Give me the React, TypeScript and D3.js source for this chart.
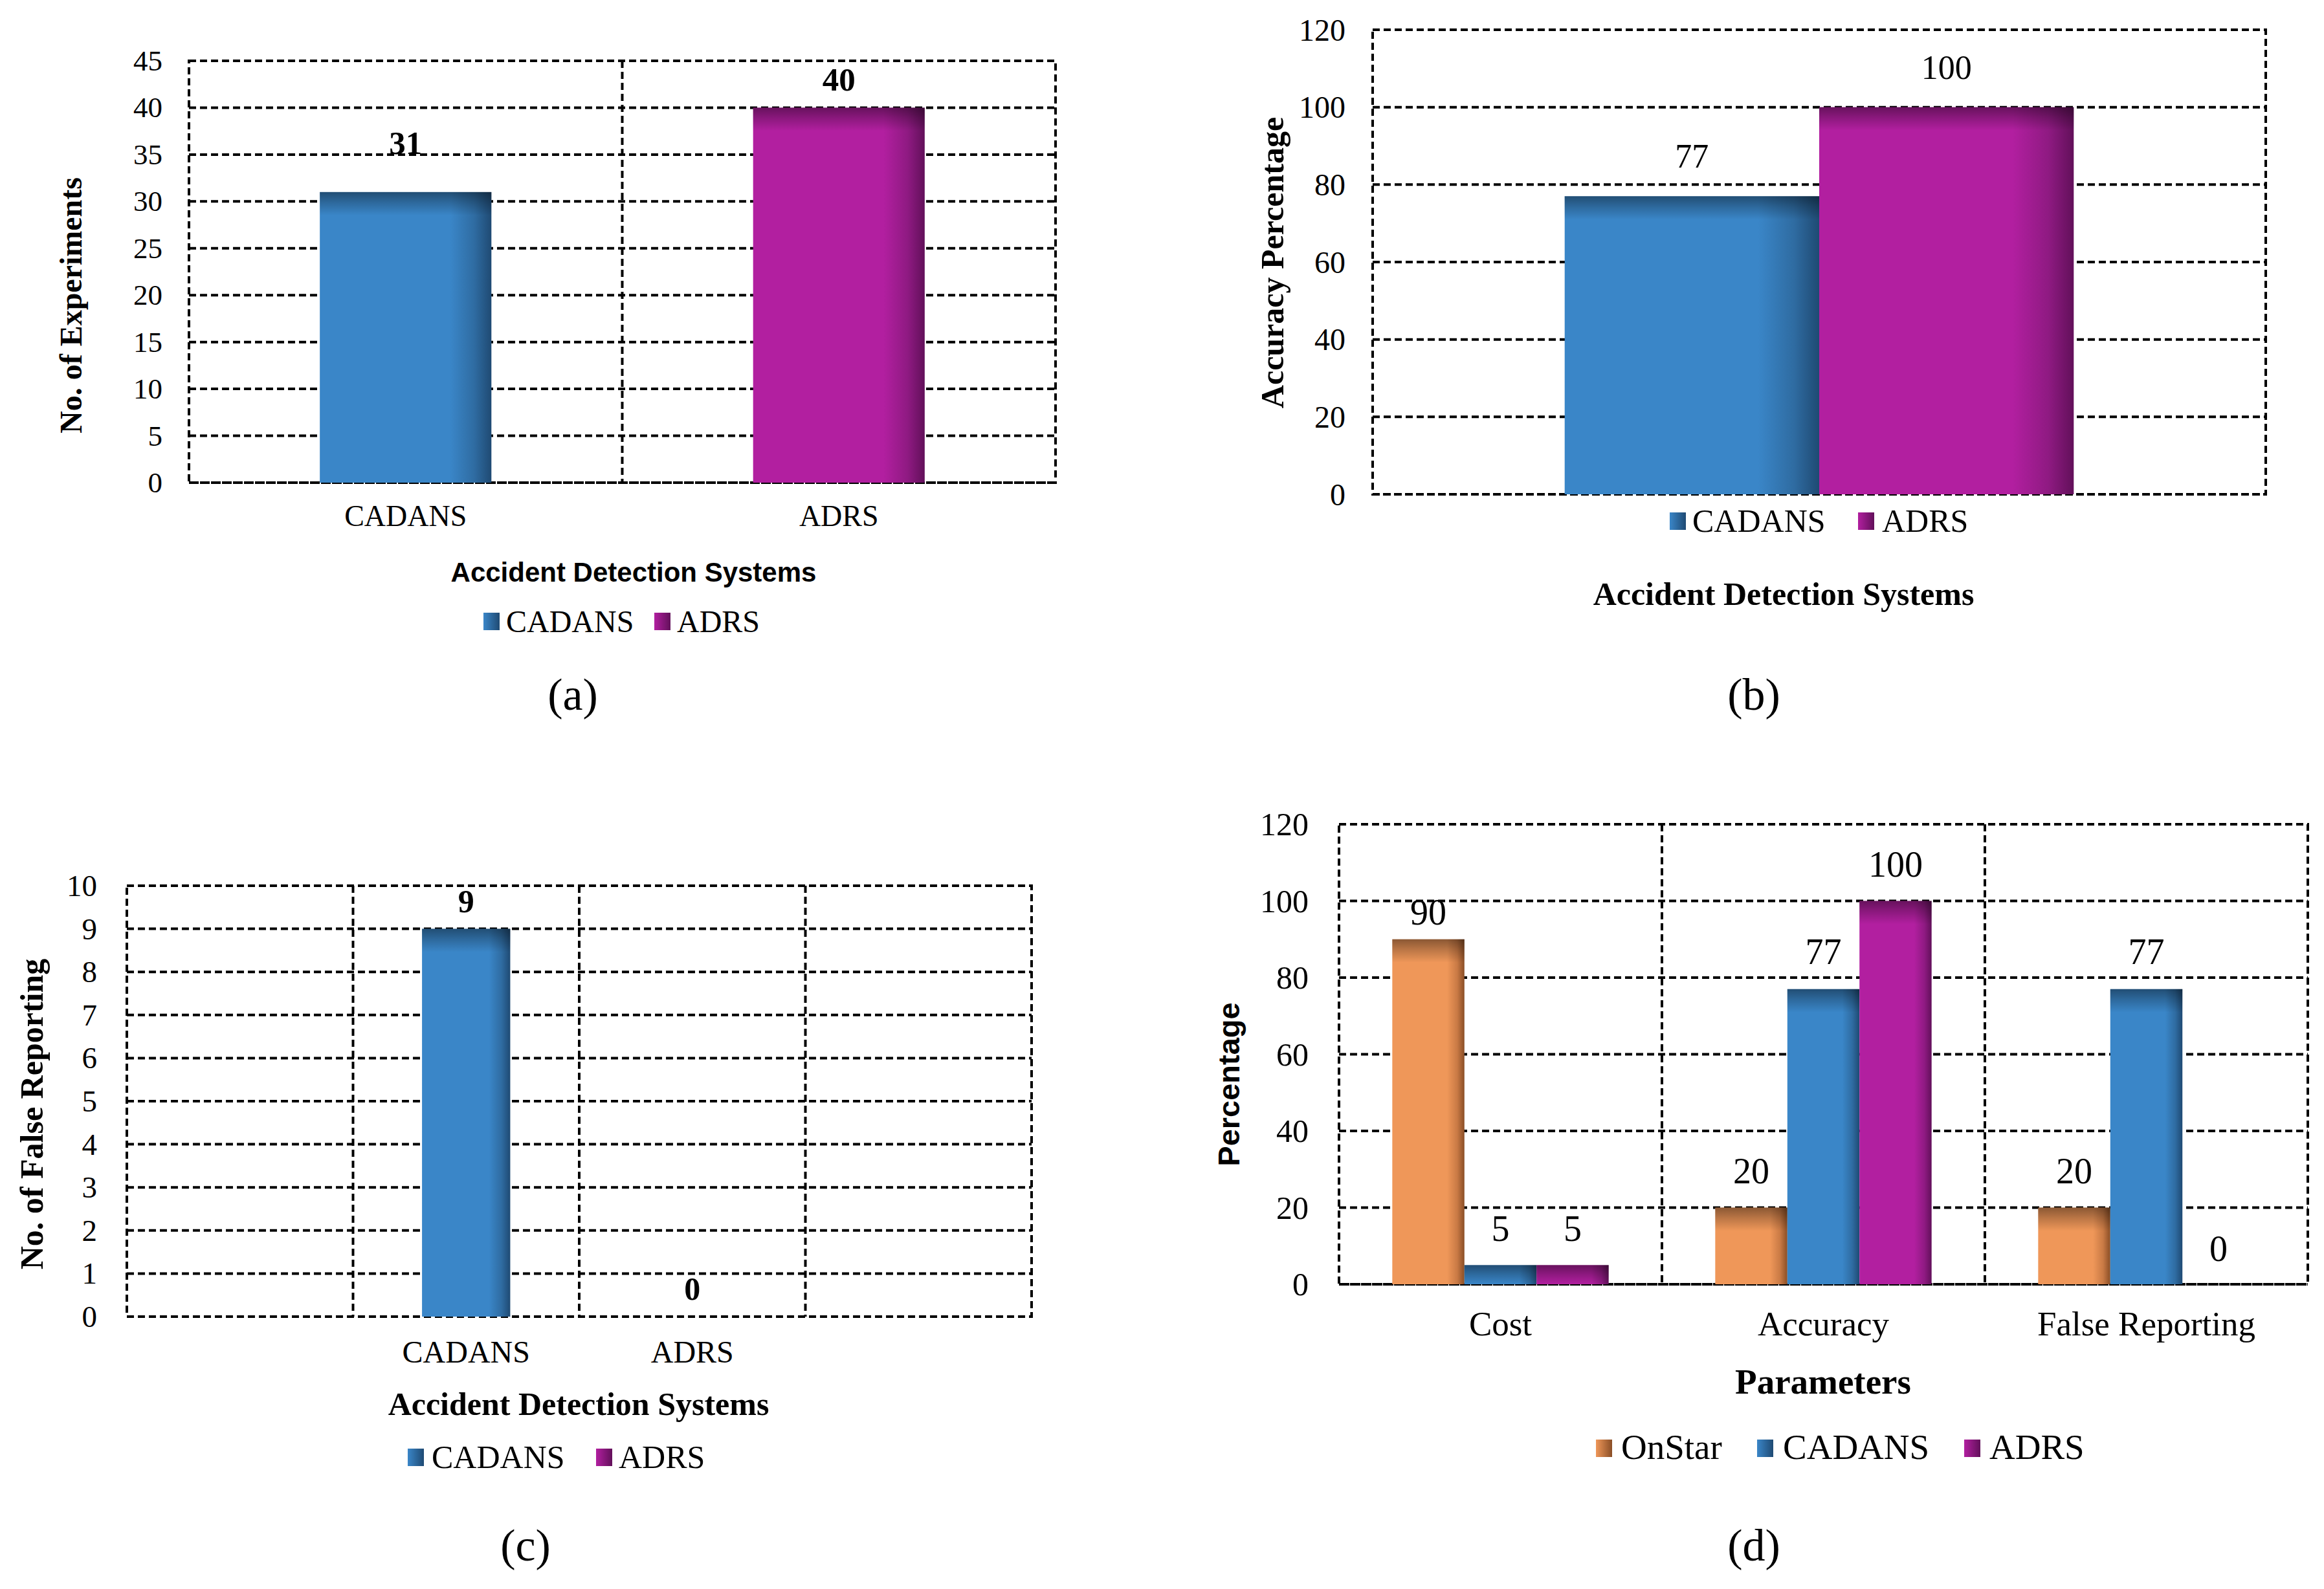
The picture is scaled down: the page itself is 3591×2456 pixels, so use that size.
import React from "react";
import * as d3 from "d3";

// ---- data ----
const systems = ["CADANS", "ADRS"];
const experimentCounts = [31, 40];
const accuracyPct = [77, 100];
const falseReports = [9, 0];

const parameters = ["Cost", "Accuracy", "False Reporting"];
const paramSeries = ["OnStar", "CADANS", "ADRS"];
const onStarPct = [90, 20, 20];
const cadansPct = [5, 77, 77];
const adrsPct = [5, 100, 0];

const ticksA = [0, 5, 10, 15, 20, 25, 30, 35, 40, 45];
const ticksB = [0, 20, 40, 60, 80, 100, 120];
const ticksC = [0, 1, 2, 3, 4, 5, 6, 7, 8, 9, 10];
const ticksD = [0, 20, 40, 60, 80, 100, 120];

const palette: Record<string, { base: string; mid: string; dark: string }> = {
    OnStar: { base: "#EF9759", mid: "#C97A45", dark: "#8A4E26" },
    CADANS: { base: "#3A86C8", mid: "#2F6CA2", dark: "#1F4A73" },
    ADRS: { base: "#B21FA0", mid: "#8F1A82", dark: "#62105A" },
};

const SERIF = "'Liberation Serif', 'Times New Roman', serif";
const SANS = "'Liberation Sans', Arial, sans-serif";

type Bar = { band: string; series: string; value: number; lift: number };
type Title = { text: string; x: number; y: number; size: number; family: string };
type LegendItem = { name: string; sx: number; tx: number };

interface PanelProps {
    box: { l: number; r: number; t: number; b: number };
    bands: string[];
    bandLabels: Record<string, string>;
    bars: Bar[];
    groupFrac: number;
    yMax: number;
    ticks: number[];
    tickFont: number;
    tickGap: number;
    valueFont: number;
    valueBold: boolean;
    catFont: number;
    catBaseline: number;
    xTitle: Title;
    yTitle: Title;
    legend: { y: number; size: number; items: LegendItem[] };
    caption: { text: string; x: number; y: number };
}

function Panel(p: PanelProps) {
    const { box } = p;
    const x = d3.scaleBand<string>().domain(p.bands).range([box.l, box.r]).padding(0);
    const y = d3.scaleLinear().domain([0, p.yMax]).range([box.b, box.t]);
    const bw = x.bandwidth();
    const groupW = bw * p.groupFrac;

    // inner scale per band (only series that have a bar there)
    const inner: Record<string, d3.ScaleBand<string>> = {};
    p.bands.forEach((band) => {
        const ser = p.bars.filter((b) => b.band === band).map((b) => b.series);
        const x0 = x(band)! + (bw - groupW) / 2;
        inner[band] = d3.scaleBand<string>().domain(ser).range([x0, x0 + groupW]).padding(0);
    });

    const dash = { stroke: "#000", strokeWidth: 4, strokeDasharray: "11 6", fill: "none" };

    return (
        <g>
            {/* horizontal gridlines */}
            {p.ticks.map((t) => (
                <line key={"h" + t} x1={box.l} x2={box.r} y1={y(t)} y2={y(t)} {...dash} />
            ))}
            {/* vertical gridlines at band boundaries */}
            {p.bands.slice(1).map((b) => (
                <line key={"v" + b} x1={x(b)} x2={x(b)} y1={box.t} y2={box.b} {...dash} />
            ))}
            <rect x={box.l} y={box.t} width={box.r - box.l} height={box.b - box.t} {...dash} />

            {/* bars */}
            {p.bars.map((b, i) => {
                const bx = inner[b.band](b.series)!;
                const w = inner[b.band].bandwidth();
                const top = y(b.value);
                const h = box.b - top;
                if (h <= 0) return null;
                return (
                    <g key={"bar" + i}>
                        <rect x={bx} y={top} width={w} height={h} fill={`url(#h-${b.series})`} />
                        <rect x={bx} y={top} width={w} height={Math.min(36, h)} fill="url(#topShade)" />
                    </g>
                );
            })}

            {/* value labels */}
            {p.bars.map((b, i) => {
                const bx = inner[b.band](b.series)!;
                const w = inner[b.band].bandwidth();
                return (
                    <text
                        key={"val" + i}
                        x={bx + w / 2}
                        y={y(b.value) - b.lift}
                        textAnchor="middle"
                        fontFamily={SERIF}
                        fontSize={p.valueFont}
                        fontWeight={p.valueBold ? "bold" : "normal"}
                    >
                        {b.value}
                    </text>
                );
            })}

            {/* y tick labels */}
            {p.ticks.map((t) => (
                <text
                    key={"t" + t}
                    x={box.l - p.tickGap}
                    y={y(t)}
                    textAnchor="end"
                    dominantBaseline="central"
                    fontFamily={SERIF}
                    fontSize={p.tickFont}
                >
                    {t}
                </text>
            ))}

            {/* category labels */}
            {p.bands
                .filter((b) => p.bandLabels[b])
                .map((b) => (
                    <text
                        key={"c" + b}
                        x={x(b)! + bw / 2}
                        y={p.catBaseline}
                        textAnchor="middle"
                        fontFamily={SERIF}
                        fontSize={p.catFont}
                    >
                        {p.bandLabels[b]}
                    </text>
                ))}

            {/* axis titles */}
            <text
                x={p.xTitle.x}
                y={p.xTitle.y}
                textAnchor="middle"
                fontFamily={p.xTitle.family}
                fontSize={p.xTitle.size}
                fontWeight="bold"
            >
                {p.xTitle.text}
            </text>
            <text
                transform={`translate(${p.yTitle.x},${p.yTitle.y}) rotate(-90)`}
                textAnchor="middle"
                dominantBaseline="central"
                fontFamily={p.yTitle.family}
                fontSize={p.yTitle.size}
                fontWeight="bold"
            >
                {p.yTitle.text}
            </text>

            {/* legend */}
            {p.legend.items.map((it) => (
                <g key={"lg" + it.name}>
                    <rect
                        x={it.sx}
                        y={p.legend.y - 30}
                        width={25}
                        height={27}
                        fill={`url(#lg-${it.name})`}
                    />
                    <text x={it.tx} y={p.legend.y} fontFamily={SERIF} fontSize={p.legend.size}>
                        {it.name}
                    </text>
                </g>
            ))}

            <text x={p.caption.x} y={p.caption.y} textAnchor="middle" fontFamily={SERIF} fontSize={70}>
                {p.caption.text}
            </text>
        </g>
    );
}

export default function App() {
    const labelsAB: Record<string, string> = {};
    systems.forEach((s) => (labelsAB[s] = s));

    const liftA = [59, 26];
    const liftD = [
        [23, 37, 37],
        [38, 39, 38],
        [38, 39, 36],
    ];
    const dValues = [onStarPct, cadansPct, adrsPct];

    const panelA: PanelProps = {
        box: { l: 292, r: 1631, t: 94, b: 746 },
        bands: systems,
        bandLabels: labelsAB,
        bars: systems.map((s, i) => ({ band: s, series: s, value: experimentCounts[i], lift: liftA[i] })),
        groupFrac: 0.396,
        yMax: 45,
        ticks: ticksA,
        tickFont: 45,
        tickGap: 41,
        valueFont: 51,
        valueBold: true,
        catFont: 46,
        catBaseline: 813,
        xTitle: { text: "Accident Detection Systems", x: 979, y: 899, size: 42, family: SANS },
        yTitle: { text: "No. of Experiments", x: 109, y: 472, size: 48, family: SERIF },
        legend: {
            y: 977,
            size: 48,
            items: [
                { name: "CADANS", sx: 747, tx: 782 },
                { name: "ADRS", sx: 1011, tx: 1046 },
            ],
        },
        caption: { text: "(a)", x: 885, y: 1097 },
    };

    const panelB: PanelProps = {
        box: { l: 2121, r: 3501, t: 46, b: 764 },
        bands: ["group"],
        bandLabels: {},
        bars: systems.map((s, i) => ({ band: "group", series: s, value: accuracyPct[i], lift: 44 })),
        groupFrac: 0.57,
        yMax: 120,
        ticks: ticksB,
        tickFont: 48,
        tickGap: 42,
        valueFont: 52,
        valueBold: false,
        catFont: 48,
        catBaseline: 0,
        xTitle: { text: "Accident Detection Systems", x: 2756, y: 935, size: 50, family: SERIF },
        yTitle: { text: "Accuracy Percentage", x: 1966, y: 406, size: 50, family: SERIF },
        legend: {
            y: 822,
            size: 50,
            items: [
                { name: "CADANS", sx: 2580, tx: 2615 },
                { name: "ADRS", sx: 2871, tx: 2908 },
            ],
        },
        caption: { text: "(b)", x: 2710, y: 1097 },
    };

    const panelC: PanelProps = {
        box: { l: 196, r: 1594, t: 1369, b: 2035 },
        bands: ["padL", ...systems, "padR"],
        bandLabels: labelsAB,
        bars: systems.map((s, i) => ({ band: s, series: s, value: falseReports[i], lift: 26 })),
        groupFrac: 0.39,
        yMax: 10,
        ticks: ticksC,
        tickFont: 47,
        tickGap: 46,
        valueFont: 50,
        valueBold: true,
        catFont: 48,
        catBaseline: 2106,
        xTitle: { text: "Accident Detection Systems", x: 894, y: 2187, size: 50, family: SERIF },
        yTitle: { text: "No. of False Reporting", x: 49, y: 1722, size: 50, family: SERIF },
        legend: {
            y: 2269,
            size: 50,
            items: [
                { name: "CADANS", sx: 630, tx: 667 },
                { name: "ADRS", sx: 921, tx: 956 },
            ],
        },
        caption: { text: "(c)", x: 812, y: 2412 },
    };

    const labelsD: Record<string, string> = {};
    parameters.forEach((s) => (labelsD[s] = s));

    const panelD: PanelProps = {
        box: { l: 2069, r: 3566, t: 1274, b: 1985 },
        bands: parameters,
        bandLabels: labelsD,
        bars: parameters.flatMap((param, i) =>
            paramSeries.map((s, j) => ({ band: param, series: s, value: dValues[j][i], lift: liftD[i][j] }))
        ),
        groupFrac: 0.67,
        yMax: 120,
        ticks: ticksD,
        tickFont: 50,
        tickGap: 47,
        valueFont: 56,
        valueBold: false,
        catFont: 53,
        catBaseline: 2064,
        xTitle: { text: "Parameters", x: 2817, y: 2154, size: 55, family: SERIF },
        yTitle: { text: "Percentage", x: 1898, y: 1676, size: 47, family: SANS },
        legend: {
            y: 2255,
            size: 55,
            items: [
                { name: "OnStar", sx: 2466, tx: 2505 },
                { name: "CADANS", sx: 2715, tx: 2755 },
                { name: "ADRS", sx: 3035, tx: 3074 },
            ],
        },
        caption: { text: "(d)", x: 2710, y: 2412 },
    };

    return (
        <svg
            width={3591}
            height={2456}
            viewBox="0 0 3591 2456"
            style={{ position: "absolute", left: 0, top: 0, background: "#fff" }}
        >
            <defs>
                {Object.entries(palette).map(([name, c]) => (
                    <linearGradient key={"h" + name} id={`h-${name}`} x1="0" x2="1" y1="0" y2="0">
                        <stop offset="0" stopColor={c.base} />
                        <stop offset="0.76" stopColor={c.base} />
                        <stop offset="0.9" stopColor={c.mid} />
                        <stop offset="1" stopColor={c.dark} />
                    </linearGradient>
                ))}
                {Object.entries(palette).map(([name, c]) => (
                    <linearGradient key={"lg" + name} id={`lg-${name}`} x1="0" x2="1" y1="0" y2="0">
                        <stop offset="0" stopColor={c.base} />
                        <stop offset="1" stopColor={c.dark} />
                    </linearGradient>
                ))}
                <linearGradient id="topShade" x1="0" x2="0" y1="0" y2="1">
                    <stop offset="0" stopColor="#000" stopOpacity={0.42} />
                    <stop offset="0.45" stopColor="#000" stopOpacity={0.22} />
                    <stop offset="1" stopColor="#000" stopOpacity={0} />
                </linearGradient>
            </defs>
            <rect width={3591} height={2456} fill="#fff" />
            <Panel {...panelA} />
            <Panel {...panelB} />
            <Panel {...panelC} />
            <Panel {...panelD} />
        </svg>
    );
}
